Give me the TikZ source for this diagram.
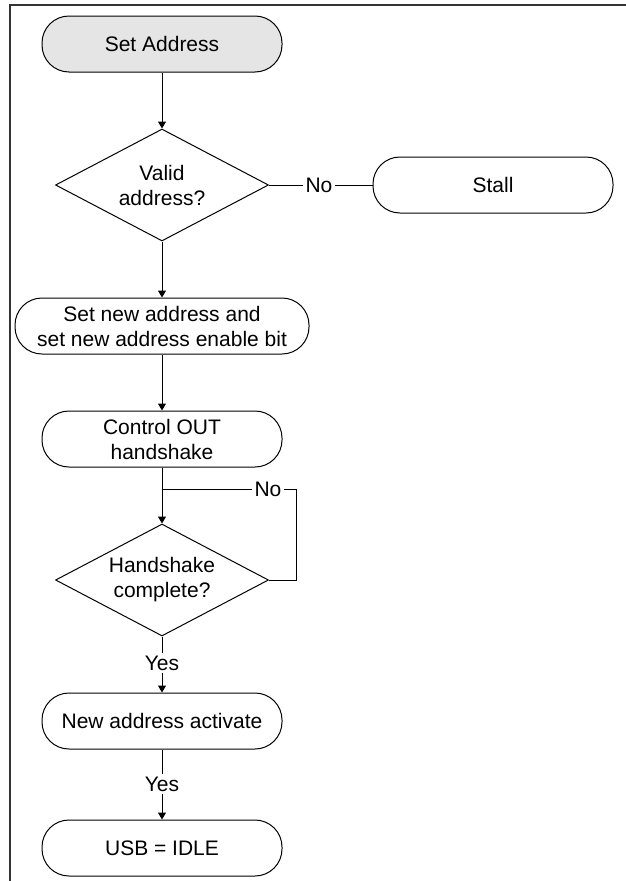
\documentclass[tikz,border=0pt]{standalone}
\usepackage{fontspec}
\setmainfont{Liberation Sans}
\usetikzlibrary{shapes.geometric,arrows.meta}
\tikzset{%
    term/.style={draw,rounded corners=27pt,minimum width=240pt,minimum height=56pt,align=center,inner sep=0pt},
    dec/.style={draw,diamond,aspect=1.9,inner sep=0pt,minimum width=213pt,minimum height=112pt,align=center},
    lbl/.style={inner sep=2pt},
    flow/.style={-{Triangle[length=7pt,width=8pt]}}
}
\begin{document}
\begin{tikzpicture}[x=1pt,y=-1pt,line width=1pt,font=\fontsize{21}{25}\selectfont]
    \useasboundingbox (0,0) rectangle (626,881);
    \draw[line width=2pt,black!80] (9.5,881) -- (9.5,4.5) -- (626,4.5);
    \node[term,fill=black!10] (start) at (162,44){Set Address};
    \node[dec] (valid) at (162,185){Valid\\address?};
    \node[lbl] (no1) at (319,185){No};
    \node[term] (stall) at (493,185){Stall};
    \node[term,minimum width=294pt] (setaddr) at (162,326){Set new address and\\set new address enable bit};
    \node[term] (ctrl) at (162,439){Control OUT\\handshake};
    \coordinate (split) at (162,489);
    \node[lbl] (no2) at (268,489){No};
    \coordinate (loop) at (296,489);
    \node[dec] (done) at (162,580){Handshake\\complete?};
    \node[lbl] (yes1) at (162,663){Yes};
    \node[term] (newaddr) at (162,721){New address activate};
    \node[lbl] (yes2) at (162,784){Yes};
    \node[term] (idle) at (162,848){USB = IDLE};
    \draw[flow] (start) -- (valid);
    \draw (valid) -- (no1) -- (stall);
    \draw[flow] (valid) -- (setaddr);
    \draw[flow] (setaddr) -- (ctrl);
    \draw[flow] (ctrl) -- (done);
    \draw (done.east) -| (loop) -- (no2);
    \draw (no2) -- (split);
    \draw (done) -- (yes1);
    \draw[flow] (yes1) -- (newaddr);
    \draw (newaddr) -- (yes2);
    \draw[flow] (yes2) -- (idle);
\end{tikzpicture}
\end{document}
